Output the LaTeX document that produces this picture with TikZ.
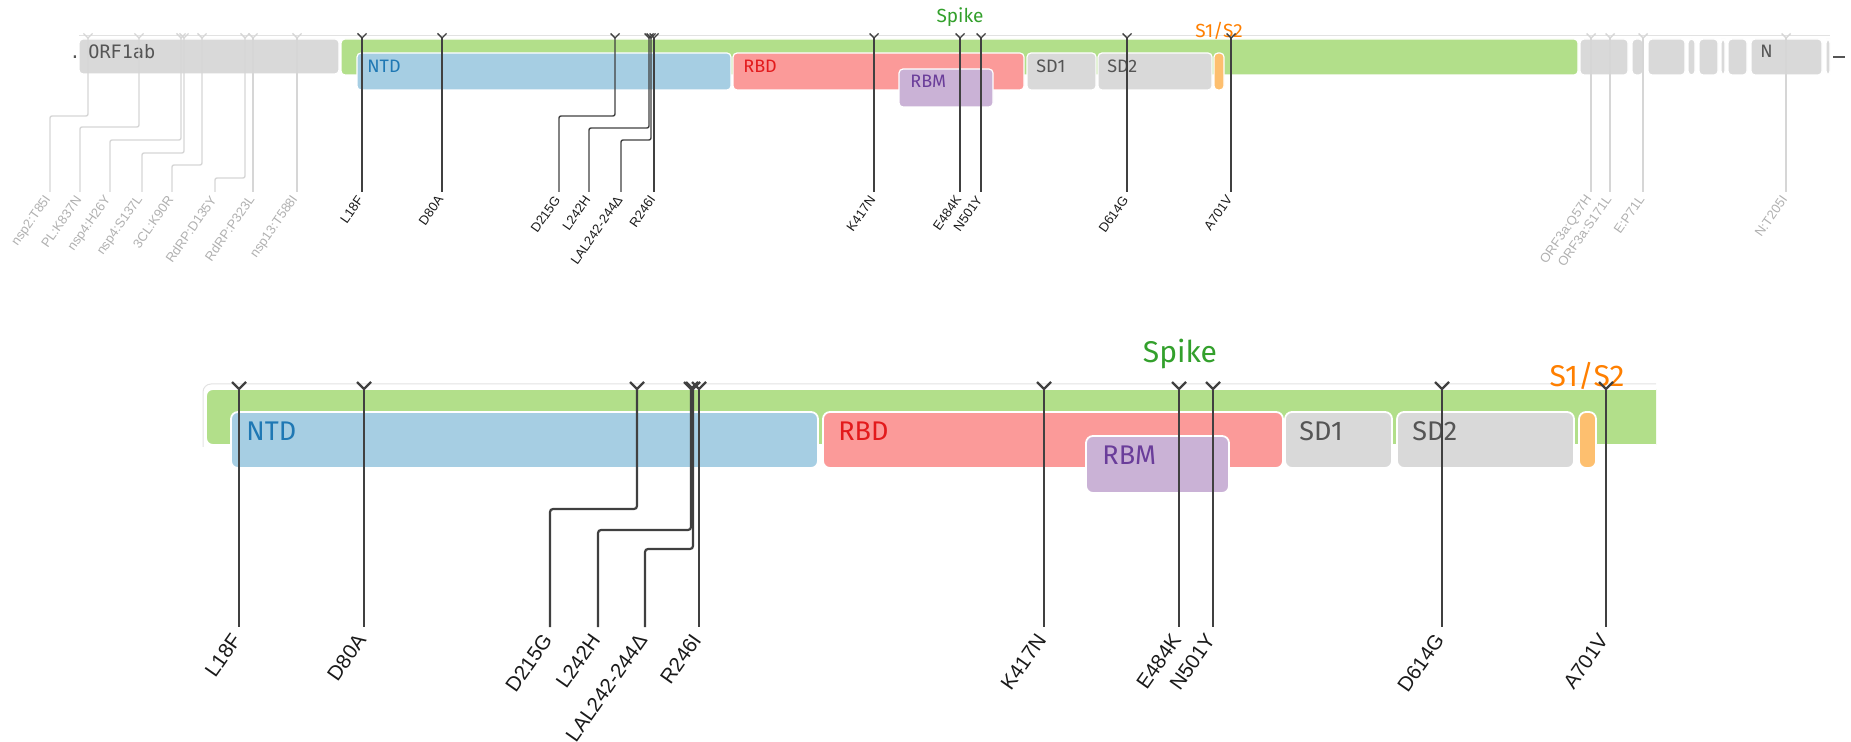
\documentclass[tikz,border=0pt]{standalone}
\usepackage{fontspec}
\newfontfamily\mutfont{Liberation Sans}
\newfontfamily\domfont{Fira Sans}
\newfontfamily\orffont{DejaVu Sans Mono}
\definecolor{spikegreen}{HTML}{B2DF8A}
\definecolor{spiketext}{HTML}{33A02C}
\definecolor{ntdfill}{HTML}{A6CEE3}
\definecolor{ntdtext}{HTML}{1F78B4}
\definecolor{rbdfill}{HTML}{FB9A99}
\definecolor{rbdtext}{HTML}{E31A1C}
\definecolor{rbmfill}{HTML}{CAB2D6}
\definecolor{rbmtext}{HTML}{6A3D9A}
\definecolor{genegray}{HTML}{D9D9D9}
\definecolor{genetext}{HTML}{555555}
\definecolor{cleavefill}{HTML}{FDBF6F}
\definecolor{cleavetext}{HTML}{FF7F00}
\definecolor{darkline}{HTML}{404040}
\definecolor{lightline}{HTML}{D6D6D6}
\definecolor{darklab}{HTML}{1A1A1A}
\definecolor{lightlab}{HTML}{B0B0B0}
\definecolor{rim}{HTML}{E2E2E2}

% small track: one mutation, straight or bent leader
\newcommand{\smallmut}[4]{% name, x, label, tone
  \coordinate (t#1) at (#2,38);
  \coordinate (e#1) at (#2,192);
  \node[smalllab, text=#4lab] (l#1) at ([shift={(-1.5,5)}]e#1) {#3};
  \draw[smallline, draw=#4line] (t#1) -- (e#1);
  \draw[smallline, draw=#4line] ([shift={(-4.5,-4.5)}]t#1) -- (t#1) -- ([shift={(4.5,-4.5)}]t#1);
}
\newcommand{\smallmutbent}[6]{% name, tick x, end x, bend y, label, tone
  \coordinate (t#1) at (#2,38);
  \coordinate (b#1) at (#3,#4);
  \coordinate (e#1) at (#3,192);
  \node[smalllab, text=#6lab] (l#1) at ([shift={(-1.5,5)}]e#1) {#5};
  \draw[smallline, draw=#6line, rounded corners=1pt] (t#1) |- (b#1) -- (e#1);
  \draw[smallline, draw=#6line] ([shift={(-4.5,-4.5)}]t#1) -- (t#1) -- ([shift={(4.5,-4.5)}]t#1);
}
% enlarged spike track
\newcommand{\bigmut}[3]{% name, x, label
  \coordinate (T#1) at (#2,389);
  \coordinate (E#1) at (#2,627);
  \node[biglab] (L#1) at ([shift={(-2.5,9)}]E#1) {#3};
  \draw[bigline] (T#1) -- (E#1);
  \draw[bigline] ([shift={(-7,-7)}]T#1) -- (T#1) -- ([shift={(7,-7)}]T#1);
}
\newcommand{\bigmutbent}[5]{% name, tick x, end x, bend y, label
  \coordinate (T#1) at (#2,389);
  \coordinate (B#1) at (#3,#4);
  \coordinate (E#1) at (#3,627);
  \node[biglab] (L#1) at ([shift={(-2.5,9)}]E#1) {#5};
  \draw[bigline, rounded corners=1.5pt] (T#1) |- (B#1) -- (E#1);
  \draw[bigline] ([shift={(-7,-7)}]T#1) -- (T#1) -- ([shift={(7,-7)}]T#1);
}

\begin{document}
\begin{tikzpicture}[x=0.5pt,y=-0.5pt,
  smallbox/.style={draw=white, line width=0.6pt, rounded corners=2pt},
  bigbox/.style={draw=white, line width=0.9pt, rounded corners=3.5pt},
  smalldom/.style={font=\domfont\fontsize{9}{9}\selectfont, anchor=base west, inner sep=0pt},
  bigdom/.style={font=\domfont\fontsize{13.5}{13.5}\selectfont, anchor=base west, inner sep=0pt},
  smalllab/.style={font=\mutfont\fontsize{6.5}{6.5}\selectfont, rotate=55, anchor=east, inner sep=0pt},
  biglab/.style={font=\mutfont\fontsize{10.25}{10.25}\selectfont, text=darklab, rotate=55, anchor=east, inner sep=0pt},
  smallline/.style={line width=0.7pt},
  bigline/.style={draw=darkline, line width=1.1pt},
  rimline/.style={draw=rim, line width=0.5pt}]
\useasboundingbox (0,0) rectangle (1851,742);

%% ---------------- whole genome track ----------------
\draw[rimline] (79,36) -- (1830,36);
\node[font=\orffont\fontsize{9}{9}\selectfont, text=genetext, anchor=base, inner sep=0pt] (dot) at (75,59) {.};
\draw[smallbox, fill=genegray] (79,39) rectangle (339,74);
\node[font=\orffont\fontsize{9.25}{9.25}\selectfont, text=genetext, anchor=base west, inner sep=0pt] (orf) at (88,59) {ORF1ab};
\draw[smallbox, fill=spikegreen] (341,39) rectangle (1578,75);
\draw[smallbox, fill=ntdfill] (357,53) rectangle (731,90);
\draw[smallbox, fill=rbdfill] (733,53) rectangle (1024,90);
\draw[smallbox, fill=rbmfill] (899,69) rectangle (993,107);
\draw[smallbox, fill=genegray] (1027,53) rectangle (1096,90);
\draw[smallbox, fill=genegray] (1098,53) rectangle (1212,90);
\draw[smallbox, fill=cleavefill] (1214,53) rectangle (1224,90);
\node[smalldom, text=ntdtext] (ntd) at (367,73) {NTD};
\node[smalldom, text=rbdtext] (rbd) at (743,73) {RBD};
\node[smalldom, text=rbmtext] (rbm) at (910,88) {RBM};
\node[smalldom, text=genetext] (sd1) at (1036,73) {SD1};
\node[smalldom, text=genetext] (sd2) at (1107,73) {SD2};
\node[font=\domfont\fontsize{9.5}{9.5}\selectfont, text=spiketext, anchor=base, inner sep=0pt] (spike) at (960,23) {Spike};
\node[font=\domfont\fontsize{9.5}{9.5}\selectfont, text=cleavetext, anchor=base, inner sep=0pt] (s1s2) at (1219,38) {S1/S2};
% downstream genes
\foreach \a/\b in {1580/1628,1632/1643,1648/1685,1688/1695,1699/1718,1721/1725,1728/1747,1751/1822,1826/1830}
  \draw[smallbox, fill=genegray] (\a,39) rectangle (\b,75);
\node[font=\domfont\fontsize{9}{9}\selectfont, text=genetext, anchor=base west, inner sep=0pt] (ngene) at (1760,58) {N};
\draw[genetext, line width=0.9pt] (1833,57) -- (1845,57);

% mutations outside the spike
\smallmutbent{a1}{88}{50}{116}{nsp2:T85I}{light}
\smallmutbent{a2}{139}{80}{127}{PL:K837N}{light}
\smallmutbent{a3}{181}{110}{140}{nsp4:H26Y}{light}
\smallmutbent{a4}{184}{142}{153}{nsp4:S137L}{light}
\smallmutbent{a5}{202}{172}{165}{3CL:K90R}{light}
\smallmutbent{a6}{245}{215}{178}{RdRP:D135Y}{light}
\smallmut{a7}{253}{RdRP:P323L}{light}
\smallmut{a8}{297}{nsp13:T588I}{light}
\smallmut{a9}{1591}{ORF3a:Q57H}{light}
\smallmut{a10}{1610}{ORF3a:S171L}{light}
\smallmut{a11}{1643}{E:P71L}{light}
\smallmut{a12}{1786}{N:T205I}{light}
% spike mutations
\smallmut{s1}{362}{L18F}{dark}
\smallmut{s2}{442}{D80A}{dark}
\smallmutbent{s3}{615}{559}{116}{D215G}{dark}
\smallmutbent{s4}{649}{589}{128}{L242H}{dark}
\smallmutbent{s5}{651}{621}{140}{LAL242-244Δ}{dark}
\smallmut{s6}{654}{R246I}{dark}
\smallmut{s7}{874}{K417N}{dark}
\smallmut{s8}{960}{E484K}{dark}
\smallmut{s9}{981}{N501Y}{dark}
\smallmut{s10}{1127}{D614G}{dark}
\smallmut{s11}{1231}{A701V}{dark}

%% ---------------- enlarged spike track ----------------
\begin{scope}
  \clip (0,0) rectangle (1656,742);
  \draw[rimline, rounded corners=4pt] (203,447) -- (203,384) -- (1700,384);
  \draw[bigbox, fill=spikegreen] (206,389) rectangle (1700,445);
\end{scope}
\draw[bigbox, fill=ntdfill] (231,412) rectangle (818,468);
\draw[bigbox, fill=rbdfill] (823,412) rectangle (1283,468);
\draw[bigbox, fill=rbmfill] (1086,436) rectangle (1229,493);
\draw[bigbox, fill=genegray] (1285,412) rectangle (1392,468);
\draw[bigbox, fill=genegray] (1397,412) rectangle (1574,468);
\draw[bigbox, fill=cleavefill] (1579,412) rectangle (1596,468);
\node[bigdom, text=ntdtext] (NTD) at (246,441) {NTD};
\node[bigdom, text=rbdtext] (RBD) at (838,441) {RBD};
\node[bigdom, text=rbmtext] (RBM) at (1102,465) {RBM};
\node[bigdom, text=genetext] (SD1) at (1299,441) {SD1};
\node[bigdom, text=genetext] (SD2) at (1412,441) {SD2};
\node[font=\domfont\fontsize{15}{15}\selectfont, text=spiketext, anchor=base, inner sep=0pt] (SPIKE) at (1180,363) {Spike};
\node[font=\domfont\fontsize{15}{15}\selectfont, text=cleavetext, anchor=base, inner sep=0pt] (S1S2) at (1587,387) {S1/S2};

\bigmut{m1}{239}{L18F}
\bigmut{m2}{364}{D80A}
\bigmutbent{m3}{637}{550}{509}{D215G}
\bigmutbent{m4}{691}{598}{530}{L242H}
\bigmutbent{m5}{693}{645}{549}{LAL242-244Δ}
\bigmut{m6}{699}{R246I}
\bigmut{m7}{1044}{K417N}
\bigmut{m8}{1179}{E484K}
\bigmut{m9}{1213}{N501Y}
\bigmut{m10}{1442}{D614G}
\bigmut{m11}{1606}{A701V}
\end{tikzpicture}
\end{document}
